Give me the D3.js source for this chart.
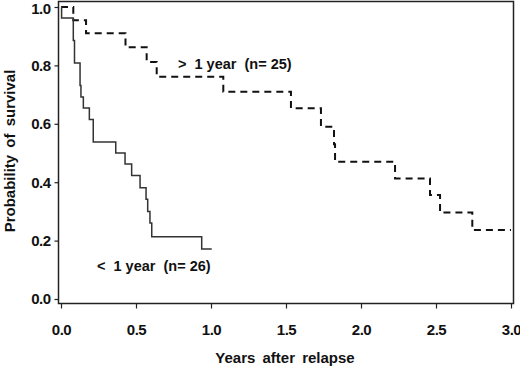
<!DOCTYPE html>
<html>
<head>
<meta charset="utf-8">
<script src="https://cdn.jsdelivr.net/npm/d3@7"></script>
<style>
body { margin: 0; background: #fff; }
text { font-family: "Liberation Sans", Arial, sans-serif; font-weight: bold; fill: #111; }
</style>
</head>
<body>
<svg id="chart" width="520" height="369"></svg>
<script>
// survival steps (years, probability)
var shortTimes = [0, 0.004, 0.082, 0.09, 0.127, 0.133, 0.149, 0.189, 0.215, 0.365, 0.427, 0.471, 0.527, 0.567, 0.578, 0.593, 0.605, 0.938, 1.005];
var shortSurv  = [1.0, 0.962, 0.885, 0.808, 0.731, 0.692, 0.654, 0.615, 0.538, 0.5, 0.462, 0.423, 0.381, 0.342, 0.3, 0.26, 0.2135, 0.171, 0.171];

var longTimes = [0, 0.082, 0.167, 0.43, 0.571, 0.638, 1.082, 1.533, 1.733, 1.82, 1.827, 2.227, 2.46, 2.527, 2.742, 3.0];
var longSurv  = [1.0, 0.955, 0.91, 0.862, 0.812, 0.761, 0.71, 0.653, 0.59, 0.53, 0.47, 0.413, 0.356, 0.296, 0.236, 0.236];

var xTicks = [0, 0.5, 1.0, 1.5, 2.0, 2.5, 3.0];
var yTicks = [0, 0.2, 0.4, 0.6, 0.8, 1.0];

var svg = d3.select("#chart");

var x = d3.scaleLinear().domain([0, 3]).range([61, 511]);
var y = d3.scaleLinear().domain([0, 1]).range([299, 7]);

// frame
svg.append("rect")
    .attr("x", 58.5).attr("y", 1.5)
    .attr("width", 455).attr("height", 302)
    .attr("fill", "none").attr("stroke", "#222").attr("stroke-width", 1.5);

// axes
var xAxis = svg.append("g")
    .attr("transform", "translate(0,303.5)")
    .call(d3.axisBottom(x).tickValues(xTicks).tickSize(5).tickPadding(16)
        .tickFormat(function(d) { return d.toFixed(1); }));
xAxis.select(".domain").remove();
xAxis.selectAll("line").attr("stroke", "#222").attr("stroke-width", 1.2);
xAxis.selectAll("text").attr("font-size", 15).style("letter-spacing", "-0.5px");

var yAxis = svg.append("g")
    .attr("transform", "translate(58.5,0)")
    .call(d3.axisLeft(y).tickValues(yTicks).tickSize(4).tickPadding(4)
        .tickFormat(function(d) { return d.toFixed(1); }));
yAxis.select(".domain").remove();
yAxis.selectAll("line").attr("stroke", "#222").attr("stroke-width", 1.2);
yAxis.selectAll("text").attr("font-size", 15).style("letter-spacing", "-0.5px");
// top label sits at the edge, nudge it so it stays visible
yAxis.selectAll("text").filter(function(d) { return d === 1; }).attr("y", 1.5);

// axis titles
svg.append("text")
    .attr("x", 285).attr("y", 363)
    .attr("text-anchor", "middle")
    .attr("font-size", 15)
    .style("word-spacing", "3px")
    .text("Years after relapse");

svg.append("text")
    .attr("transform", "translate(15,151) rotate(-90)")
    .attr("text-anchor", "middle")
    .attr("font-size", 15)
    .style("word-spacing", "3px")
    .text("Probability of survival");

// curves
var line = d3.line()
    .x(function(d) { return x(d[0]); })
    .y(function(d) { return y(d[1]); })
    .curve(d3.curveStepAfter);

svg.append("path")
    .datum(d3.zip(longTimes, longSurv))
    .attr("d", line)
    .attr("fill", "none")
    .attr("stroke", "#111")
    .attr("stroke-width", 2)
    .attr("stroke-dasharray", "7,5");

svg.append("path")
    .datum(d3.zip(shortTimes, shortSurv))
    .attr("d", line)
    .attr("fill", "none")
    .attr("stroke", "#333")
    .attr("stroke-width", 1.5);

// curve labels
svg.append("text")
    .attr("x", 178).attr("y", 69)
    .attr("font-size", 14.5)
    .attr("xml:space", "preserve")
    .text(">  1 year  (n= 25)");

svg.append("text")
    .attr("x", 97).attr("y", 271)
    .attr("font-size", 14.5)
    .attr("xml:space", "preserve")
    .text("<  1 year  (n= 26)");
</script>
</body>
</html>
